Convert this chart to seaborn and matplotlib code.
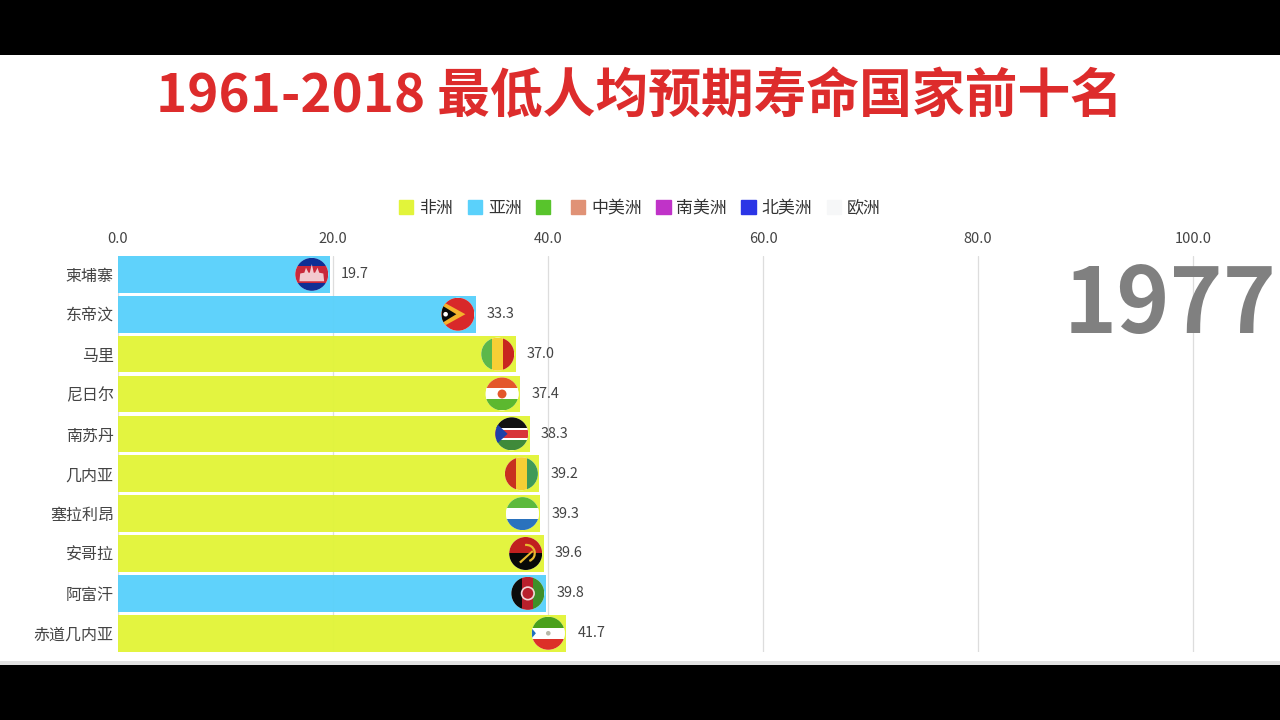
import matplotlib
matplotlib.use('Agg')
import matplotlib.pyplot as plt
import matplotlib.patches as mpatches
from matplotlib.transforms import Affine2D
import pandas as pd
import seaborn as sns

# data
countries = ['柬埔寨', '东帝汶', '马里', '尼日尔', '南苏丹', '几内亚', '塞拉利昂', '安哥拉', '阿富汗', '赤道几内亚']
life_exp = [19.7, 33.3, 37.0, 37.4, 38.3, 39.2, 39.3, 39.6, 39.8, 41.7]
regions = ['亚洲', '亚洲', '非洲', '非洲', '非洲', '非洲', '非洲', '非洲', '亚洲', '非洲']
legend_names = ['非洲', '亚洲', '', '中美洲', '南美洲', '北美洲', '欧洲']
legend_colors = ['#e2f43a', '#5ad1fb', '#58c42c', '#e09276', '#c033c8', '#2b35e6', '#f6f7f8']
x_ticks = [0, 20, 40, 60, 80, 100]
title_text = '1961-2018 最低人均预期寿命国家前十名'
year_text = '1977'

# flag: direction of stripes, colours, optional hoist triangle colour
flags = {
    '柬埔寨': ('h', ['#0f2f95', '#c9283a', '#c9283a', '#0f2f95'], None),
    '东帝汶': ('h', ['#d8282a'], '#f4b32c'),
    '马里': ('v', ['#5cb84a', '#f6cf35', '#c8261f'], None),
    '尼日尔': ('h', ['#e4572b', '#ffffff', '#5cb82f'], None),
    '南苏丹': ('h', ['#111111', '#d8343a', '#3f8a3a'], '#1f3fa8'),
    '几内亚': ('v', ['#c8301f', '#f6cf35', '#3f9a58'], None),
    '塞拉利昂': ('h', ['#5cba3c', '#ffffff', '#2a72bd'], None),
    '安哥拉': ('h', ['#c0201f', '#080808'], None),
    '阿富汗': ('v', ['#0c0c0c', '#b8202c', '#3f8f2a'], None),
    '赤道几内亚': ('h', ['#4aa01c', '#ffffff', '#dc3028'], '#1f6fc0'),
}

sns.set_theme(style='white')
plt.rcParams['font.family'] = ['Noto Sans CJK SC', 'DejaVu Sans']

W, H = 1280, 720
fig = plt.figure(figsize=(W / 100, H / 100), dpi=100, facecolor='white')
ax = fig.add_axes([118 / W, 1 - 652 / H, (W - 118) / W, (652 - 256) / H])

df = pd.DataFrame({'country': countries, 'value': life_exp, 'region': regions})
palette = dict(zip(legend_names, legend_colors))
sns.barplot(data=df, y='country', x='value', hue='region', palette=palette, dodge=False,
            width=0.92, saturation=1, alpha=0.97, linewidth=0, legend=False, ax=ax, zorder=2)

ax.set_xlim(0, (W - 118) / 10.75)
ax.set_ylim(9.47, -0.46)
ax.set_xlabel('')
ax.set_ylabel('')
ax.xaxis.tick_top()
ax.set_xticks(x_ticks, [f'{t:.1f}' for t in x_ticks])
ax.tick_params(axis='x', length=0, pad=7, labelsize=10.5, labelcolor='#444444')
ax.tick_params(axis='y', length=0, pad=3, labelsize=11.5, labelcolor='#444444')
ax.grid(axis='x', color='#dddddd', lw=0.9, zorder=0)
ax.set_axisbelow(True)
sns.despine(ax=ax, left=True, bottom=True, top=True, right=True)

for c in ax.containers:
    ax.bar_label(c, fmt='%.1f', padding=8, fontsize=10.4, color='#444444')


def draw_flag(name, value, row):
    # round flag sits at the end of its bar
    kind, cols, tri = flags[name]
    cx, cy = ax.transData.transform((value, row))
    tr = Affine2D().scale(16.5).translate(cx - 18, cy)
    disc = mpatches.Circle((0, 0), 1, transform=tr, fc='white', ec='none', zorder=4)
    ax.add_patch(disc)
    n = len(cols)
    for k, col in enumerate(cols):
        if kind == 'h':
            r = mpatches.Rectangle((-1, 1 - 2 * (k + 1) / n), 2, 2 / n, transform=tr, fc=col, ec='none', zorder=5)
        else:
            r = mpatches.Rectangle((-1 + 2 * k / n, -1), 2 / n, 2, transform=tr, fc=col, ec='none', zorder=5)
        ax.add_patch(r)
        r.set_clip_path(disc)
    extras = []
    if name == '柬埔寨':
        extras.append(mpatches.Polygon([(-.75, -.42), (-.7, .05), (-.45, .1), (-.35, .4), (-.2, .1), (-.12, .1), (0, .62),
                                        (.12, .1), (.2, .1), (.35, .4), (.45, .1), (.7, .05), (.75, -.42)],
                                       transform=tr, fc='#f3c9cf', ec='none', zorder=6))
    if name == '东帝汶':
        extras.append(mpatches.Polygon([(-1, .8), (.45, 0), (-1, -.8)], transform=tr, fc=tri, ec='none', zorder=6))
        extras.append(mpatches.Polygon([(-1, .55), (-.1, 0), (-1, -.55)], transform=tr, fc='#0a0a0a', ec='none', zorder=7))
        extras.append(mpatches.Circle((-.75, 0), .14, transform=tr, fc='white', ec='none', zorder=8))
    if name == '尼日尔':
        extras.append(mpatches.Circle((0, 0), .27, transform=tr, fc='#e4572b', ec='none', zorder=6))
    if name == '南苏丹':
        extras.append(mpatches.Rectangle((-1, .25), 2, .1, transform=tr, fc='white', ec='none', zorder=6))
        extras.append(mpatches.Rectangle((-1, -.35), 2, .1, transform=tr, fc='white', ec='none', zorder=6))
        extras.append(mpatches.Polygon([(-1, .7), (-.25, 0), (-1, -.7)], transform=tr, fc=tri, ec='none', zorder=7))
    if name == '安哥拉':
        extras.append(mpatches.Arc((.05, .02), 1.0, 1.0, theta1=-70, theta2=100, transform=tr, ec='#e8b92e', lw=1.6, zorder=6))
        extras.append(mpatches.Polygon([(-.4, -.5), (.4, .2), (.45, .1), (-.3, -.6)], transform=tr, fc='#e8b92e', ec='none', zorder=6))
    if name == '阿富汗':
        extras.append(mpatches.Circle((0, 0), .38, transform=tr, fc='none', ec='#f2d7d7', lw=1.2, zorder=6))
    if name == '赤道几内亚':
        extras.append(mpatches.Polygon([(-1, .3), (-.75, 0), (-1, -.3)], transform=tr, fc=tri, ec='none', zorder=6))
        extras.append(mpatches.Circle((0, 0), .14, transform=tr, fc='#b8b8a8', ec='none', zorder=6))
    for p in extras:
        ax.add_patch(p)
        p.set_clip_path(disc)


for i, (name, v) in enumerate(zip(countries, life_exp)):
    draw_flag(name, v, i)

# legend across the top
handles = [mpatches.Patch(color=c) for c in legend_colors]
fig.legend(handles, legend_names, ncol=7, loc='center', bbox_to_anchor=(640 / W, 1 - 208 / H),
           frameon=False, fontsize=12.2, handlelength=0.85, handleheight=0.9, handletextpad=0.35,
           columnspacing=0.85, labelcolor='#333333', borderpad=0)

fig.text(639 / W, 1 - 97 / H, title_text, ha='center', va='center', fontsize=38,
         fontweight='bold', color='#dd2c2c')
fig.text(1170 / W, 1 - 306 / H, year_text, ha='center', va='center', fontsize=65, fontweight='bold',
         color='#808080')

# letterbox of the video frame
for y0, h0, col in [(0, 55, 'black'), (665, 55, 'black'), (661, 4, '#e2e2e2')]:
    fig.add_artist(mpatches.Rectangle((0, 1 - (y0 + h0) / H), 1, h0 / H, transform=fig.transFigure,
                                      fc=col, ec='none', zorder=10))

fig.savefig('out.png', dpi=100)
